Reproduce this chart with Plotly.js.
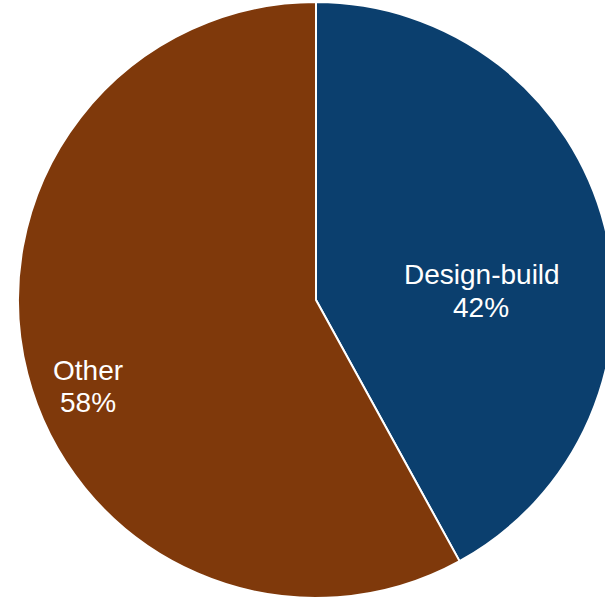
<!DOCTYPE html>
<html>
<head>
<meta charset="utf-8">
<script src="https://cdn.plot.ly/plotly-3.0.1.min.js"></script>
<style>
html,body{margin:0;padding:0;overflow:hidden;background:#fff;}
#chart{width:625px;height:602px;}
</style>
</head>
<body>
<div id="chart"></div>
<script>
const labels = ["Design-build", "Other"];
const values = [42, 58];
const colors = ["#0B3F6E", "#7F390B"];

const W = 625, H = 602;
const cx = 316, cy = 300, r = 298;

// label placement (pixels from top-left) for name line and percent line
const labelPos = [
  {name: [482, 274], pct: [481, 307]},
  {name: [88, 370], pct: [88, 402]}
];

const total = values.reduce((a, b) => a + b, 0);
const annotations = [];
labels.forEach((lab, i) => {
  const pct = Math.round(values[i] / total * 100) + "%";
  [[lab, labelPos[i].name], [pct, labelPos[i].pct]].forEach(([t, p]) => {
    annotations.push({
      text: t, xref: "paper", yref: "paper",
      x: p[0] / W, y: 1 - p[1] / H, xanchor: "center", yanchor: "middle",
      showarrow: false,
      font: {family: "Liberation Sans, Arial, sans-serif", size: 28, color: "#ffffff"}
    });
  });
});

Plotly.newPlot("chart", [{
  type: "pie",
  labels: labels,
  values: values,
  sort: false,
  direction: "clockwise",
  rotation: 0,
  marker: {colors: colors, line: {color: "#ffffff", width: 2}},
  textinfo: "none",
  hoverinfo: "none",
  domain: {x: [(cx - r) / W, (cx + r) / W], y: [(H - cy - r) / H, (H - cy + r) / H]}
}], {
  width: W, height: H,
  margin: {l: 0, r: 0, t: 0, b: 0},
  showlegend: false,
  paper_bgcolor: "#ffffff",
  annotations: annotations
}, {displayModeBar: false, staticPlot: true});
</script>
</body>
</html>
